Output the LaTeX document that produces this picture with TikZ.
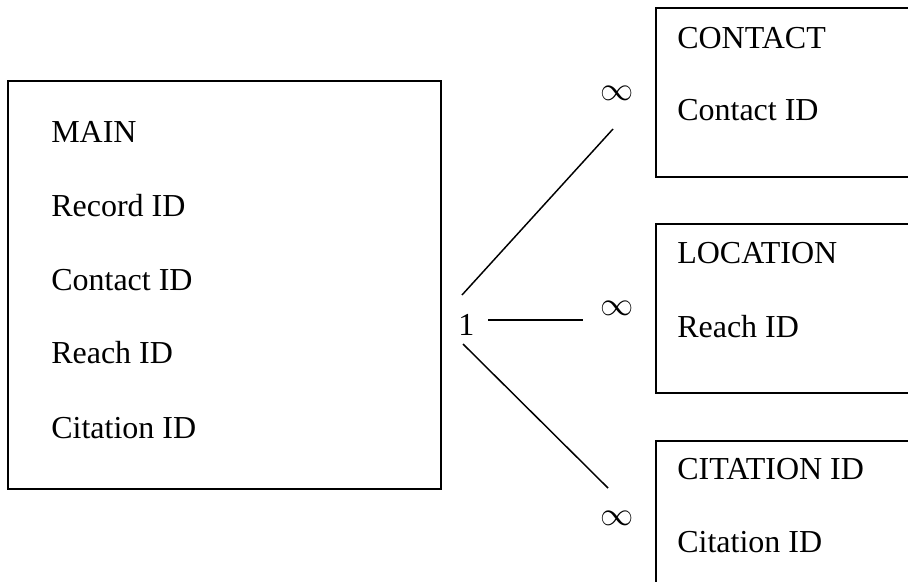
\documentclass[tikz,border=0pt]{standalone}
\usepackage{fontspec}
\setmainfont{Liberation Serif}
\begin{document}
\begin{tikzpicture}[x=0.75pt,y=-0.75pt,
  tablebox/.style={draw,line width=1.5pt,rectangle,inner sep=0pt,anchor=north west},
  field/.style={anchor=base west,inner sep=0pt,font=\fontsize{24pt}{28pt}\selectfont},
  many/.style={inner sep=0pt,font=\fontsize{32pt}{36pt}\selectfont},
  link/.style={line width=1.1pt}]
\useasboundingbox (0,0) rectangle (908,582);
\clip (0,0) rectangle (908,582);

% main table
\node[tablebox,minimum width=324.75pt,minimum height=306pt] (main) at (7,80) {};
\node[field] (mainT) at (51,142) {MAIN};
\node[field] (mainA) at (51,216) {Record ID};
\node[field] (mainB) at (51,290) {Contact ID};
\node[field] (mainC) at (51,363) {Reach ID};
\node[field] (mainD) at (51,438) {Citation ID};

% related tables (running off the right edge)
\node[tablebox,minimum width=240pt,minimum height=126.75pt] (contact) at (655,7) {};
\node[field] (contactT) at (677,48) {CONTACT};
\node[field] (contactA) at (677,120) {Contact ID};

\node[tablebox,minimum width=240pt,minimum height=126.75pt] (location) at (655,223) {};
\node[field] (locationT) at (677,263) {LOCATION};
\node[field] (locationA) at (677,337) {Reach ID};

\node[tablebox,minimum width=240pt,minimum height=126.75pt] (citation) at (655,440) {};
\node[field] (citationT) at (677,479) {CITATION ID};
\node[field] (citationA) at (677,552) {Citation ID};

% cardinality marks
\node[field] (one) at (458,335) {1};
\node[many] (m1) at (617.5,93) {$\infty$};
\node[many] (m2) at (617.5,308) {$\infty$};
\node[many] (m3) at (617.5,518) {$\infty$};

% connector end points
\coordinate (o1) at (462,295);
\coordinate (o2) at (488,320);
\coordinate (o3) at (463,344);
\coordinate (e1) at (613,129);
\coordinate (e2) at (583,320);
\coordinate (e3) at (608,488);

\draw[link] (o1) -- (e1);
\draw[link] (o2) -- (e2);
\draw[link] (o3) -- (e3);
\end{tikzpicture}
\end{document}
